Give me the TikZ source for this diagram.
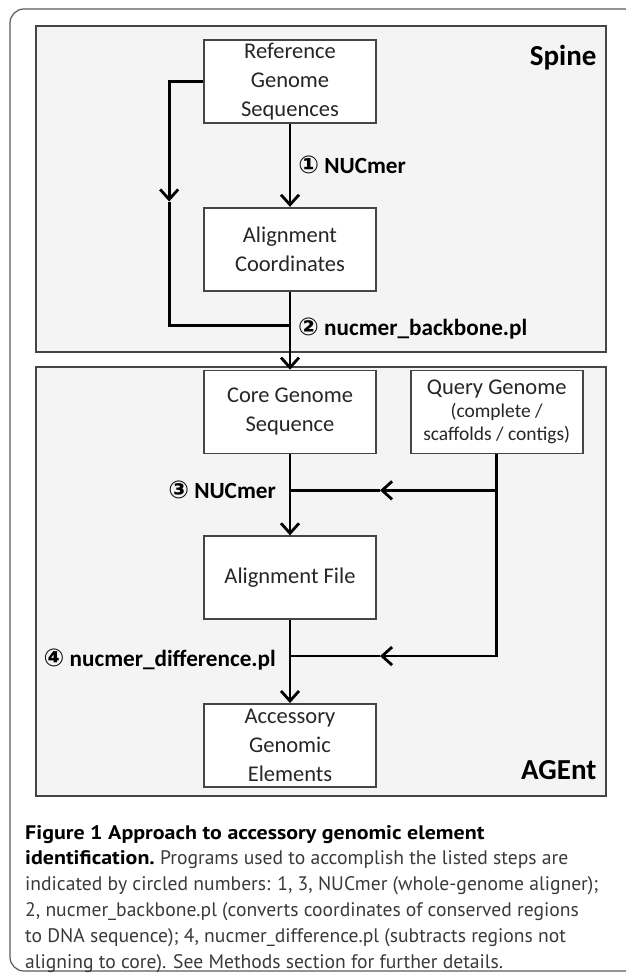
\documentclass[tikz,border=0pt]{standalone}
\usepackage{fontspec}
\setmainfont{Carlito}
\newfontfamily\capfont{PT Sans}
\newfontfamily\circfont{DejaVu Sans}
\usetikzlibrary{arrows.meta,positioning,calc}
\definecolor{AGPanel}{HTML}{F4F4F4}
\definecolor{AGEdge}{HTML}{454545}
\definecolor{AGFrame}{HTML}{5A5A5A}
\definecolor{AGText}{HTML}{3A3A3A}
\newcommand{\circno}[1]{{\circfont\fontsize{24.5}{24}\selectfont #1}}
\newcommand{\qsmall}{\fontsize{19.5}{22}\selectfont}
\newcommand{\capstrong}[1]{\textcolor{black}{\scalebox{1.12}[1]{\bfseries #1}}}

\begin{document}
\begin{tikzpicture}[x=1pt,y=-1pt,
  panel/.style={draw=AGEdge,fill=AGPanel,line width=1.6pt,minimum width=570pt,inner sep=0pt,anchor=north west},
  box/.style={draw=AGEdge,fill=white,line width=1.7pt,minimum width=172pt,minimum height=83pt,inner sep=2pt,align=center,font=\fontsize{22.5}{29}\selectfont,text=black!85},
  flow/.style={line width=2.8pt,-{Straight Barb[length=10pt,width=18pt]}},
  line/.style={line width=2.8pt},
  steplbl/.style={font=\bfseries\fontsize{23.2}{26}\selectfont,inner sep=0pt},
  paneltag/.style={font=\bfseries\fontsize{29}{30}\selectfont,inner sep=0pt},
]
\useasboundingbox (0,0) rectangle (625,974);
\fill[white] (0,0) rectangle (625,974);
\draw[AGFrame,line width=1.2pt,rounded corners=14pt] (10,9) rectangle (660,971);
% panels
\node[panel,minimum height=326pt] (spine) at (35,25) {};
\node[panel,minimum height=429pt] (agent) at (35,366) {};
\node[paneltag,anchor=north east] (spinetag) at ($(spine.north east)+(-10,20)$) {Spine};
\node[paneltag,anchor=base east] (agenttag) at ($(agent.south east)+(-10,-17)$) {AGEnt};
% boxes
\node[box] (ref) at (290,81.5) {Reference\\Genome\\Sequences};
\node[box,below=83pt of ref] (coord) {Alignment\\Coordinates};
\node[box] (core) at (290,412) {Core Genome\\Sequence};
\node[box,right=33pt of core] (query) {Query Genome\\[-6pt]\qsmall (complete /\\[-6pt]\qsmall scaffolds / contigs)};
\node[box,below=81pt of core] (alnfile) {Alignment File};
\node[box,below=83pt of alnfile] (acc) {Accessory\\Genomic\\Elements};
% spine flow
\coordinate (loopmid) at ($(ref.west)+(-34,120)$);
\coordinate (jb) at ($(coord.south)+(0,34)$);
\draw[flow] (ref) -- node[steplbl,right=7pt] (lbl1) {\circno{①} NUCmer} (coord);
\draw[flow] (ref.west) -| (loopmid);
\draw[line] (loopmid) |- (jb);
\draw[flow] (coord) -- (core);
\node[steplbl,anchor=west] (lbl2) at ($(jb)+(8,3)$) {\circno{②} nucmer\_backbone.pl};
% agent flow
\coordinate (j3) at ($(core.south)+(0,36)$);
\coordinate (a3) at ($(j3)+(90,0)$);
\coordinate (j4) at ($(alnfile.south)+(0,36)$);
\coordinate (a4) at ($(j4)+(90,0)$);
\draw[flow] (core) -- (alnfile);
\draw[flow] (query.south) |- (a3);
\draw[line] (a3) -- (j3);
\draw[flow] (alnfile) -- (acc);
\draw[flow] (query.south) |- (a4);
\draw[line] (a4) -- (j4);
\node[steplbl,anchor=east] (lbl3) at ($(j3)+(-14,0)$) {\circno{③} NUCmer};
\node[steplbl,anchor=east] (lbl4) at ($(j4)+(-14,4)$) {\circno{④} nucmer\_difference.pl};
% caption
\node[anchor=north west,inner sep=0pt,align=left,font=\capfont\fontsize{19.6}{25.8}\selectfont,text=AGText] (caption) at (25,825)
  {\capstrong{Figure 1 Approach to accessory genomic element}\\
   \capstrong{identification.} Programs used to accomplish the listed steps are\\
   indicated by circled numbers: 1, 3, NUCmer (whole-genome aligner);\\
   2, nucmer\_backbone.pl (converts coordinates of conserved regions\\
   to DNA sequence); 4, nucmer\_difference.pl (subtracts regions not\\
   aligning to core). See Methods section for further details.};
\end{tikzpicture}
\end{document}
